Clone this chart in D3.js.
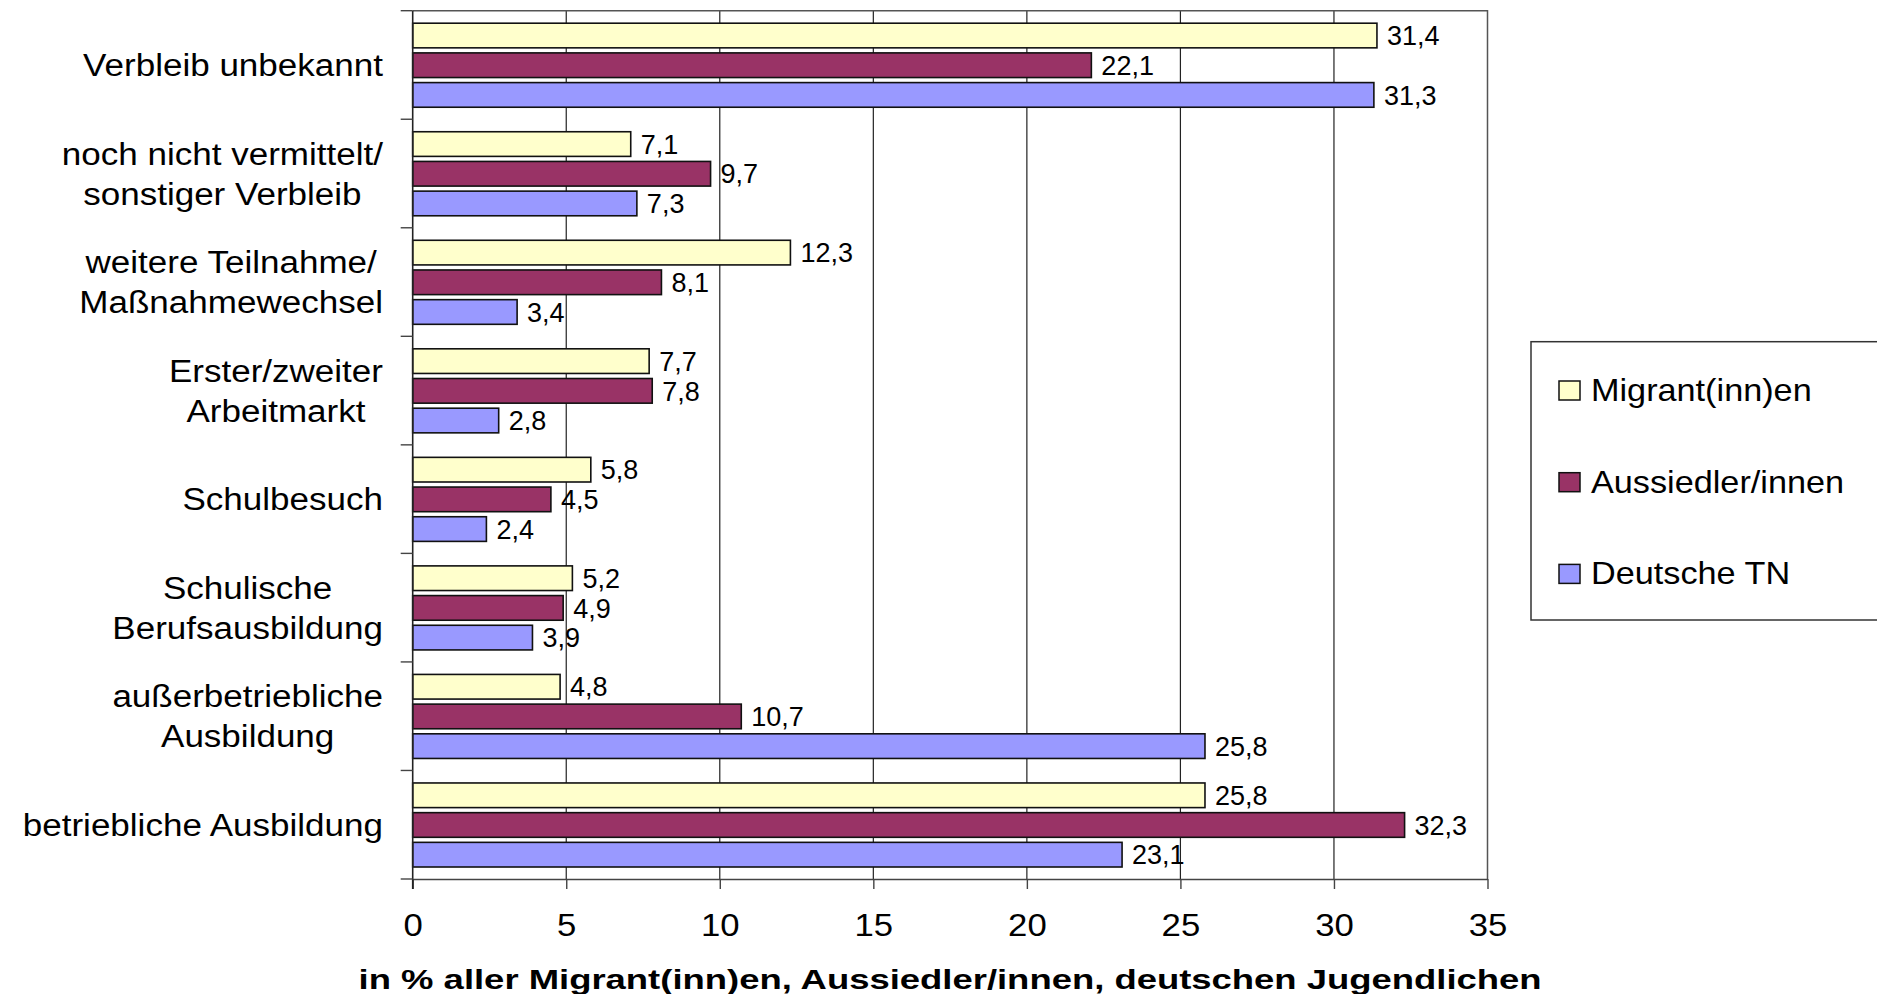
<!DOCTYPE html>
<html>
<head>
<meta charset="utf-8">
<script src="https://cdn.jsdelivr.net/npm/d3@7"></script>
<style>
  body { margin: 0; background: #fff; }
  text { font-family: "Liberation Sans", Arial, sans-serif; fill: #000; }
</style>
</head>
<body>
<svg id="chart" width="1877" height="994"></svg>
<script>
/* data */
const categories = [
  ["Verbleib unbekannt"],
  ["noch nicht vermittelt/", "sonstiger Verbleib"],
  ["weitere Teilnahme/", "Maßnahmewechsel"],
  ["Erster/zweiter", "Arbeitmarkt"],
  ["Schulbesuch"],
  ["Schulische", "Berufsausbildung"],
  ["außerbetriebliche", "Ausbildung"],
  ["betriebliche Ausbildung"]
];
const series = ["Migrant(inn)en", "Aussiedler/innen", "Deutsche TN"];
const migranten = [31.4, 7.1, 12.3, 7.7, 5.8, 5.2, 4.8, 25.8];
const aussiedler = [22.1, 9.7, 8.1, 7.8, 4.5, 4.9, 10.7, 32.3];
const deutsche = [31.3, 7.3, 3.4, 2.8, 2.4, 3.9, 25.8, 23.1];
const xTicks = [0, 5, 10, 15, 20, 25, 30, 35];
const axisTitle = "in % aller Migrant(inn)en, Aussiedler/innen, deutschen Jugendlichen";

const colors = ["#FFFFCC", "#993366", "#9999FF"];

(function() {
  const svg = d3.select("#chart");
  const left = 412.7, right = 1487.5, top = 10.7, bottom = 879;

  const x = d3.scaleLinear().domain([0, 35]).range([left, right]);
  const y = d3.scaleBand()
    .domain(d3.range(categories.length))
    .range([top, bottom]);
  const inner = d3.scaleBand()
    .domain(d3.range(series.length))
    .range([12.5, y.bandwidth() - 12])
    .paddingInner(0.17);

  const de = d3.formatLocale({ decimal: ",", thousands: ".", grouping: [3], currency: ["", ""] });
  const fmt = de.format(".1f");

  // gridlines
  svg.append("g")
    .selectAll("line")
    .data(xTicks.slice(1, -1))
    .enter().append("line")
    .attr("x1", d => x(d)).attr("x2", d => x(d))
    .attr("y1", top).attr("y2", bottom)
    .attr("stroke", "#222").attr("stroke-width", 1.2);

  // plot border top / right
  svg.append("path")
    .attr("d", `M${left},${top}H${right}V${bottom}`)
    .attr("fill", "none").attr("stroke", "#555").attr("stroke-width", 1.5);

  // bars
  const rows = [migranten, aussiedler, deutsche];
  const groups = svg.append("g").selectAll("g")
    .data(categories)
    .enter().append("g")
    .attr("transform", (d, i) => "translate(0," + y(i) + ")");

  groups.each(function(c, i) {
    const g = d3.select(this);
    rows.forEach((vals, s) => {
      g.append("rect")
        .attr("x", x(0))
        .attr("y", inner(s))
        .attr("width", x(vals[i]) - x(0))
        .attr("height", inner.bandwidth())
        .attr("fill", colors[s])
        .attr("stroke", "#111").attr("stroke-width", 1.6);
      g.append("text")
        .attr("x", x(vals[i]) + 10)
        .attr("y", inner(s) + inner.bandwidth() / 2)
        .attr("dy", "0.36em")
        .style("font-size", "27px")
        .text(fmt(vals[i]));
    });
  });

  // x axis
  const xAxis = svg.append("g")
    .attr("transform", "translate(0," + bottom + ")")
    .call(d3.axisBottom(x).tickValues(xTicks).tickSize(10).tickSizeOuter(0).tickFormat(d3.format("d")));
  xAxis.select(".domain").attr("stroke", "#444").attr("stroke-width", 1.6);
  xAxis.selectAll(".tick line").attr("stroke", "#444").attr("stroke-width", 1.4);
  xAxis.selectAll(".tick text")
    .attr("y", 35).attr("dy", "0.71em")
    .attr("transform", "scale(1.12,1)")
    .style("font-size", "31px")
    .style("font-family", "'Liberation Sans', Arial, sans-serif")
    .attr("fill", "#000");

  // y axis line + category ticks
  svg.append("line")
    .attr("x1", left).attr("x2", left)
    .attr("y1", top).attr("y2", bottom + 10)
    .attr("stroke", "#222").attr("stroke-width", 1.6);
  svg.append("g").selectAll("line")
    .data(d3.range(categories.length + 1))
    .enter().append("line")
    .attr("x1", left - 12).attr("x2", left)
    .attr("y1", i => top + i * y.step()).attr("y2", i => top + i * y.step())
    .attr("stroke", "#444").attr("stroke-width", 1.4);

  // category labels: centered lines, block right-aligned
  const labelRight = 383, sx = 1.13, lh = 40;
  categories.forEach((lines, i) => {
    const cy = y(i) + y.bandwidth() / 2;
    const g = svg.append("g");
    const texts = lines.map((l, k) => g.append("text")
      .attr("text-anchor", "middle")
      .style("font-size", "31px")
      .text(l));
    const w = d3.max(texts, t => t.node().getComputedTextLength()) * sx;
    const cx = labelRight - w / 2;
    texts.forEach((t, k) => {
      const by = cy + (k - (lines.length - 1) / 2) * lh + 11;
      t.attr("transform", `translate(${cx},${by}) scale(${sx},1)`);
    });
  });

  // axis title
  svg.append("text")
    .attr("x", (left + right) / 2)
    .attr("y", 989)
    .attr("text-anchor", "middle")
    .attr("textLength", 1183)
    .attr("lengthAdjust", "spacingAndGlyphs")
    .style("font-size", "28px")
    .style("font-weight", "bold")
    .text(axisTitle);

  // legend
  const lg = svg.append("g");
  lg.append("rect")
    .attr("x", 1531).attr("y", 341.7)
    .attr("width", 400).attr("height", 278.3)
    .attr("fill", "#fff").attr("stroke", "#333").attr("stroke-width", 1.5);
  series.forEach((s, i) => {
    const yy = 381 + i * 91.7;
    lg.append("rect")
      .attr("x", 1559).attr("y", yy)
      .attr("width", 21).attr("height", 19)
      .attr("fill", colors[i]).attr("stroke", "#111").attr("stroke-width", 1.5);
    lg.append("text")
      .attr("transform", `translate(1591,${yy + 20}) scale(1.07,1)`)
      .style("font-size", "32px")
      .text(s);
  });
})();
</script>
</body>
</html>
